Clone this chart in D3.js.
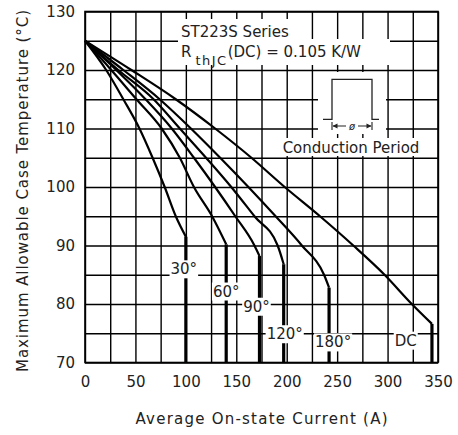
<!DOCTYPE html>
<html>
<head>
<meta charset="utf-8">
<script src="https://cdn.jsdelivr.net/npm/d3@7"></script>
<style>
  body { margin: 0; background: #fff; }
  text { font-family: "DejaVu Sans", sans-serif; fill: #222; }
</style>
</head>
<body>
<div id="chart"></div>
<script>
// tick values
const xTicks = [0, 50, 100, 150, 200, 250, 300, 350];
const yTicks = [70, 80, 90, 100, 110, 120, 130];
const xGrid = d3.range(0, 351, 25);
const yGrid = d3.range(70, 131, 5);

// curves (current A, case temp °C)
const seriesNames = ["30°", "60°", "90°", "120°", "180°", "DC"];
const current30 = [0, 21, 38, 54, 67, 79, 90, 100];
const temp30 = [125, 120, 115, 110, 105, 100, 95, 91.5];
const current60 = [0, 26, 51, 76, 94, 108, 126, 140];
const temp60 = [125, 120, 115, 110, 105, 100, 95, 90.2];
const current90 = [0, 31, 60, 86, 108, 129, 149, 168, 173];
const temp90 = [125, 120, 115, 110, 105, 100, 95, 90, 88.2];
const current120 = [0, 33, 68, 94, 120, 145, 168, 191, 197];
const temp120 = [125, 120, 115, 110, 105, 100, 95, 90, 86.8];
const current180 = [0, 38, 74, 105, 134, 162, 189, 215, 237, 242];
const temp180 = [125, 120, 115, 110, 105, 100, 95, 90, 85, 82.8];
const currentDC = [0, 46, 90, 129, 165, 198, 233, 266, 297, 324, 344];
const tempDC = [125, 120, 115, 110, 105, 100, 95, 90, 85, 80, 76.6];

const currents = [current30, current60, current90, current120, current180, currentDC];
const temps = [temp30, temp60, temp90, temp120, temp180, tempDC];

// where the curve labels sit (data coords)
const labelSpots = [[98, 86], [140, 82.2], [170, 79.6], [198, 74.9], [246, 73.5], [318, 73.8]];

const width = 458;
const height = 435;
const margin = { top: 11.5, right: 20, bottom: 72.5, left: 85 };
const w = width - margin.left - margin.right;
const h = height - margin.top - margin.bottom;

const svg = d3.select("#chart").append("svg")
  .attr("width", width)
  .attr("height", height);

const g = svg.append("g")
  .attr("transform", `translate(${margin.left},${margin.top})`);

const x = d3.scaleLinear().domain([0, 350]).range([0, w]);
const y = d3.scaleLinear().domain([70, 130]).range([h, 0]);

// grid + tick labels
const xAxis = g.append("g")
  .attr("transform", `translate(0,${h})`)
  .call(d3.axisBottom(x).tickValues(xGrid).tickSize(-h).tickSizeOuter(0)
    .tickPadding(14).tickFormat(d => xTicks.includes(d) ? d : ""));

const yAxis = g.append("g")
  .call(d3.axisLeft(y).tickValues(yGrid).tickSize(-w).tickSizeOuter(0)
    .tickPadding(10).tickFormat(d => yTicks.includes(d) ? d : ""));

[xAxis, yAxis].forEach(a => {
  a.select(".domain").remove();
  a.selectAll("line").attr("stroke", "#000").attr("stroke-width", 1.4);
  a.selectAll("text").attr("font-size", 15).attr("fill", "#222")
    .style("font-family", '"DejaVu Sans", sans-serif');
});

g.append("rect")
  .attr("width", w).attr("height", h)
  .attr("fill", "none").attr("stroke", "#000").attr("stroke-width", 1.6);

// white patch behind a bit of text
function patch(x0, y0, x1, y1) {
  svg.append("rect")
    .attr("x", x0).attr("y", y0)
    .attr("width", x1 - x0).attr("height", y1 - y0)
    .attr("fill", "#fff");
}

// info box
patch(178, 19, 292, 39);
patch(178, 39, 390, 65);
patch(318, 72, 386, 134);
patch(276, 138, 426, 156);

svg.append("text").attr("x", 181).attr("y", 37).attr("font-size", 15).text("ST223S Series");
const rt = svg.append("text").attr("x", 181).attr("y", 57).attr("font-size", 15);
rt.append("tspan").text("R");
rt.append("tspan").attr("dx", 4).attr("dy", 8).attr("font-size", 13)
  .attr("letter-spacing", 1.5).text("thJC");
rt.append("tspan").attr("dy", -8).text("(DC) = 0.105 K/W");

// conduction period pulse
svg.append("path")
  .attr("d", "M323,119.3H332V79.3H372V119.3H379")
  .attr("fill", "none").attr("stroke", "#222").attr("stroke-width", 1.3);
svg.append("path")
  .attr("d", "M332,122V130M372,122V130M333,126H346M358,126H371")
  .attr("fill", "none").attr("stroke", "#222").attr("stroke-width", 1.1);
svg.append("path")
  .attr("d", "M332.5,126l5,-2.5v5zM371.5,126l-5,-2.5v5z")
  .attr("fill", "#222");
svg.append("text").attr("x", 352).attr("y", 129.5).attr("font-size", 10)
  .attr("font-style", "italic").attr("text-anchor", "middle").text("ø");
svg.append("text").attr("x", 351).attr("y", 153).attr("font-size", 15)
  .attr("text-anchor", "middle").text("Conduction Period");

// curves
const line = d3.line()
  .x(d => x(d[0]))
  .y(d => y(d[1]))
  .curve(d3.curveMonotoneX);

currents.forEach((cs, i) => {
  const pts = cs.map((c, j) => [c, temps[i][j]]);
  g.append("path")
    .datum(pts)
    .attr("d", line)
    .attr("fill", "none")
    .attr("stroke", "#000")
    .attr("stroke-width", 2.2)
    .attr("stroke-linejoin", "round");
  const last = pts[pts.length - 1];
  g.append("line")
    .attr("x1", x(last[0])).attr("x2", x(last[0]))
    .attr("y1", y(last[1])).attr("y2", y(70))
    .attr("stroke", "#000")
    .attr("stroke-width", 3.2);
});

// curve labels with white backing
seriesNames.forEach((name, i) => {
  const [lx, ly] = labelSpots[i];
  const t = g.append("text")
    .attr("x", x(lx)).attr("y", y(ly))
    .attr("dy", "0.36em")
    .attr("text-anchor", "middle")
    .attr("font-size", 15)
    .text(name);
  const bb = t.node().getBBox();
  g.insert("rect", () => t.node())
    .attr("x", bb.x - 1).attr("y", bb.y)
    .attr("width", bb.width + 2).attr("height", bb.height)
    .attr("fill", "#fff");
});

// axis titles
svg.append("text")
  .attr("x", margin.left + w / 2).attr("y", 424)
  .attr("text-anchor", "middle").attr("font-size", 15)
  .attr("textLength", 252).attr("lengthAdjust", "spacing")
  .text("Average On-state Current (A)");

svg.append("text")
  .attr("transform", `translate(28,${margin.top + h / 2 + 4}) rotate(-90)`)
  .attr("text-anchor", "middle").attr("font-size", 15)
  .attr("textLength", 362).attr("lengthAdjust", "spacing")
  .text("Maximum Allowable Case Temperature (°C)");
</script>
</body>
</html>
